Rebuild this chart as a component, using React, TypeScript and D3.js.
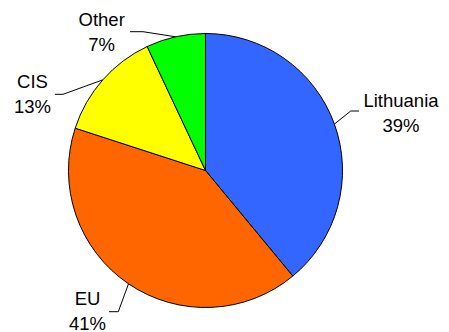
import React from "react";
import * as d3 from "d3";

const categories = ["Lithuania", "EU", "CIS", "Other"];
const values = [39, 41, 13, 7];
const colors = ["#3366FF", "#FF6600", "#FFFF00", "#00FF00"];

// label layout: elbow point, line end, label center & first baseline
const labelLayout = [
  { elbow: [350.7, 111], end: [359, 111], tx: 401, ty: 106.5 },
  { elbow: [118.3, 311.7], end: [109, 311.7], tx: 87.5, ty: 305 },
  { elbow: [63, 94.3], end: [55, 94.3], tx: 32.5, ty: 88.3 },
  { elbow: [143, 31.7], end: [130, 31.7], tx: 101.7, ty: 26 },
];

export default function App() {
  const W = 449, H = 332;
  const cx = 205.5, cy = 170.5, r = 137;
  const data = categories.map((c, i) => ({ c, v: values[i], color: colors[i] }));
  const pie = d3.pie<any>().value((d) => d.v).sort(null);
  const arcs = pie(data);
  const arc = d3.arc<any>().innerRadius(0).outerRadius(r);
  const edge = d3.arc<any>().innerRadius(r).outerRadius(r);
  const total = d3.sum(values);
  return (
    <svg width={W} height={H} style={{ position: "absolute", left: 0, top: 0 }}
      fontFamily="'Liberation Sans', Arial, sans-serif">
      <rect width={W} height={H} fill="#fff" />
      <g transform={`translate(${cx},${cy})`}>
        {arcs.map((a, i) => (
          <path key={i} d={arc(a) as string} fill={a.data.color} stroke="#000" strokeWidth={1} />
        ))}
      </g>
      {arcs.map((a, i) => {
        const [px, py] = edge.centroid(a);
        const L = labelLayout[i];
        return (
          <g key={i}>
            <polyline
              points={`${cx + px},${cy + py} ${L.elbow[0]},${L.elbow[1]} ${L.end[0]},${L.end[1]}`}
              fill="none" stroke="#000" strokeWidth={1} />
            <text x={L.tx} y={L.ty} textAnchor="middle" fontSize={18.5} fill="#000">
              {a.data.c}
            </text>
            <text x={L.tx} y={L.ty + 25} textAnchor="middle" fontSize={18.5} fill="#000">
              {Math.round((a.data.v / total) * 100)}%
            </text>
          </g>
        );
      })}
    </svg>
  );
}
